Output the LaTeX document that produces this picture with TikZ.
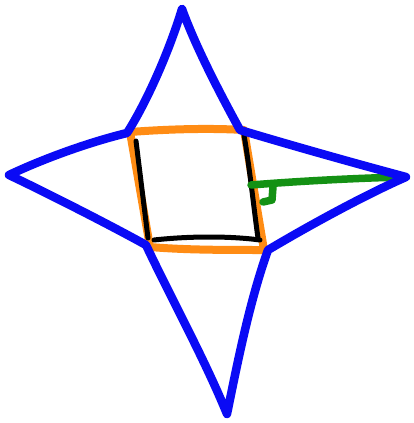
\documentclass[tikz,border=0pt]{standalone}
\begin{document}
\begin{tikzpicture}[x=1pt,y=-1pt,line cap=round,line join=round,
  bluepen/.style={line width=8.5pt,draw={rgb,255:red,10;green,10;blue,245}},
  orangepen/.style={line width=8pt,draw={rgb,255:red,255;green,140;blue,20}},
  greenpen/.style={line width=7.5pt,draw={rgb,255:red,20;green,145;blue,20}},
  blackpen/.style={line width=5pt,draw=black}]
\useasboundingbox[fill=white] (0,0) rectangle (414,423);
% orange square
\draw[orangepen] (130,132) .. controls (170,129) and (210,128) .. (244,130)
  -- (264,250) .. controls (225,250) and (185,250) .. (150,247) -- cycle;
% black inner strokes
\draw[blackpen] (136,141) -- (148,238);
\draw[blackpen] (154,240) .. controls (190,236) and (230,236) .. (260,240);
\draw[blackpen] (244,135) .. controls (250,170) and (254,210) .. (258,238);
% green
\draw[greenpen] (251,185) .. controls (300,181) and (360,178) .. (404,177);
\draw[greenpen] (273,187) -- (272,200) -- (263,202);
% blue star
\draw[bluepen] (182,9) .. controls (168,55) and (145,105) .. (127,133)
  .. controls (90,142) and (45,158) .. (9,175)
  .. controls (45,192) and (110,225) .. (146,245)
  .. controls (172,300) and (205,360) .. (227,414)
  .. controls (238,360) and (250,300) .. (268,250)
  .. controls (310,225) and (365,195) .. (406,177)
  .. controls (350,162) and (290,145) .. (240,130)
  .. controls (218,90) and (195,45) .. (182,9);
\end{tikzpicture}
\end{document}
